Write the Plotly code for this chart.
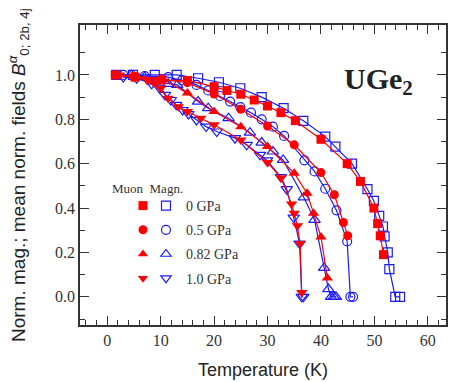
import plotly.graph_objects as go

# ---- data ----
mag0_T = [1.7, 4.8, 8.9, 13.0, 17.0, 20.9, 24.9, 28.9, 33.0, 36.7, 40.8, 42.7, 45.8, 48.7, 49.9, 50.9, 51.6, 51.9, 52.5, 52.8, 53.9, 54.8]
mag0_v = [1.0, 1.0, 1.0, 1.0, 0.985, 0.967, 0.94, 0.90, 0.85, 0.793, 0.722, 0.677, 0.60, 0.485, 0.432, 0.365, 0.317, 0.272, 0.20, 0.125, 0.0, 0.0]
muon0_T = [1.5, 5.2, 10.2, 15.0, 20.0, 22.4, 25.0, 27.5, 30.0, 32.5, 35.2, 40.0, 44.9, 47.4, 49.9, 50.6, 51.1, 51.7]
muon0_v = [1.0, 0.99, 0.977, 0.975, 0.947, 0.93, 0.913, 0.887, 0.86, 0.83, 0.794, 0.71, 0.60, 0.52, 0.40, 0.33, 0.275, 0.19]

mag05_T = [3.0, 7.0, 11.4, 14.0, 16.7, 18.9, 21.1, 23.0, 24.9, 26.9, 28.9, 31.0, 33.1, 36.9, 38.8, 40.8, 42.9, 44.9, 45.5, 46.0]
mag05_v = [1.0, 0.995, 0.99, 0.975, 0.955, 0.93, 0.905, 0.88, 0.855, 0.83, 0.80, 0.767, 0.725, 0.615, 0.565, 0.487, 0.39, 0.25, 0.0, 0.0]
muon05_T = [1.5, 5.0, 10.2, 15.0, 20.0, 25.0, 30.0, 35.0, 40.0, 42.5, 44.2, 45.0]
muon05_v = [1.0, 0.995, 0.98, 0.965, 0.914, 0.845, 0.77, 0.685, 0.56, 0.46, 0.335, 0.275]

mag082_T = [4.5, 7.0, 9.0, 11.4, 13.1, 17.0, 18.9, 22.7, 26.7, 28.9, 31.0, 32.9, 36.8, 38.8, 40.6, 41.4, 41.9, 42.4, 42.8]
mag082_v = [1.0, 0.99, 0.97, 0.96, 0.955, 0.88, 0.85, 0.805, 0.74, 0.695, 0.655, 0.617, 0.448, 0.347, 0.13, 0.035, 0.0, 0.0, 0.0]
muon082_T = [2.0, 5.0, 10.2, 15.0, 20.0, 25.0, 30.0, 35.0, 37.4, 38.6, 40.0, 41.2]
muon082_v = [1.0, 0.995, 0.985, 0.918, 0.835, 0.767, 0.677, 0.557, 0.467, 0.377, 0.27, 0.085]

mag10_T = [3.0, 5.5, 8.3, 9.8, 10.8, 11.9, 12.9, 14.1, 15.2, 16.7, 18.5, 20.5, 23.9, 26.1, 28.6, 29.9, 32.5, 33.6, 34.9, 36.0, 36.4, 36.7]
mag10_v = [0.99, 0.985, 0.96, 0.94, 0.91, 0.887, 0.865, 0.842, 0.824, 0.797, 0.767, 0.745, 0.715, 0.685, 0.64, 0.615, 0.54, 0.485, 0.357, 0.24, 0.0, 0.0]
muon10_T = [2.3, 5.0, 7.5, 8.7, 10.0, 11.4, 13.3, 15.0, 17.5, 20.0, 25.0, 30.0, 32.5, 34.5, 35.0, 35.6, 36.1, 36.4]
muon10_v = [1.0, 0.99, 0.975, 0.965, 0.94, 0.895, 0.857, 0.835, 0.805, 0.775, 0.707, 0.605, 0.537, 0.418, 0.377, 0.32, 0.24, 0.02]

pressures = ["0 GPa", "0.5 GPa", "0.82 GPa", "1.0 GPa"]
mag_sets = [(mag0_T, mag0_v), (mag05_T, mag05_v), (mag082_T, mag082_v), (mag10_T, mag10_v)]
muon_sets = [(muon0_T, muon0_v), (muon05_T, muon05_v), (muon082_T, muon082_v), (muon10_T, muon10_v)]
symbols = ["square", "circle", "triangle-up", "triangle-down"]
sizes = [9, 9, 10, 10]

y_major = [0.0, 0.2, 0.4, 0.6, 0.8, 1.0]
y_minor = [-0.1, 0.1, 0.3, 0.5, 0.7, 0.9, 1.1]

RED = "#ff0000"
BLUE = "#1a1aff"

fig = go.Figure()

for (T, v), sym, sz in zip(mag_sets, symbols, sizes):
    fig.add_trace(go.Scatter(
        x=T, y=v, mode="lines+markers", showlegend=False,
        line=dict(color=BLUE, width=1.2),
        marker=dict(symbol=sym + "-open", size=sz, color=BLUE, line=dict(width=1.2, color=BLUE)),
    ))
for (T, v), sym, sz in zip(muon_sets, symbols, sizes):
    fig.add_trace(go.Scatter(
        x=T, y=v, mode="lines+markers", showlegend=False,
        line=dict(color=RED, width=1.2),
        marker=dict(symbol=sym, size=sz, color=RED, line=dict(width=0)),
    ))

# legend-only entries
for i, (p, sym) in enumerate(zip(pressures, symbols)):
    fig.add_trace(go.Scatter(
        x=[None], y=[None], mode="markers", name=" ", legend="legend",
        legendgroup="mu%d" % i,
        marker=dict(symbol=sym, size=9, color=RED),
    ))
    fig.add_trace(go.Scatter(
        x=[None], y=[None], mode="markers", name=p, legend="legend2",
        legendgroup="ma%d" % i,
        marker=dict(symbol=sym + "-open", size=9, color=BLUE, line=dict(width=1.2, color=BLUE)),
    ))

AX = "#333333"
SERIF = "Liberation Serif"
SANS = "Liberation Sans"
PW = 366.0
PH = 300.0

fig.update_layout(
    width=450, height=382,
    margin=dict(l=80, r=4, t=25, b=57, autoexpand=False),
    paper_bgcolor="white", plot_bgcolor="white",
    showlegend=True,
    legend=dict(x=123 / 450, y=1 - 190 / 382, xref="container", yref="container",
                xanchor="left", yanchor="top", bgcolor="rgba(0,0,0,0)",
                font=dict(family=SERIF, size=14, color="#333"), tracegroupgap=3,
                itemclick=False),
    legend2=dict(x=146 / 450, y=1 - 190 / 382, xref="container", yref="container",
                 xanchor="left", yanchor="top", bgcolor="rgba(0,0,0,0)",
                 font=dict(family=SERIF, size=14, color="#333"), tracegroupgap=3,
                 itemclick=False),
    xaxis=dict(
        range=[-5.1, 63.4], tick0=0, dtick=10, ticks="inside", ticklen=9, tickwidth=1.3,
        tickcolor=AX, showline=True, linecolor=AX, linewidth=1.5, mirror="ticks",
        showgrid=False, zeroline=False,
        minor=dict(dtick=2, ticks="inside", ticklen=5, tickwidth=1, tickcolor=AX),
        tickfont=dict(family=SERIF, size=16, color="#333"),
        title=dict(text="Temperature (K)", font=dict(family=SANS, size=18, color="#222"), standoff=15),
    ),
    yaxis=dict(
        range=[-0.127, 1.225], tickvals=y_major, tickformat=".1f", ticks="inside", ticklen=9,
        tickwidth=1.3, tickcolor=AX, showline=True, linecolor=AX, linewidth=1.5, mirror="ticks",
        showgrid=False, zeroline=False,
        minor=dict(tickvals=y_minor, ticks="inside", ticklen=5, tickwidth=1, tickcolor=AX),
        tickfont=dict(family=SERIF, size=16, color="#333"),
    ),
    annotations=[
        dict(text="Norm. mag.; mean norm. fields <i>B</i><sup><i>α</i></sup><sub>0; 2b, 4j</sub>",
             x=(18 - 80) / PW, y=(325 - 175) / PH, xref="paper", yref="paper",
             textangle=-90, showarrow=False, xanchor="center", yanchor="middle",
             font=dict(family=SANS, size=19, color="#222")),
        dict(text="<b>UGe<sub>2</sub></b>", x=(342 - 80) / PW, y=(325 - 60) / PH,
             xref="paper", yref="paper", showarrow=False, xanchor="left", yanchor="top",
             font=dict(family=SERIF, size=30, color="#222")),
        dict(text="Muon  Magn.", x=(110 - 80) / PW, y=(325 - 188) / PH,
             xref="paper", yref="paper", xanchor="left", yanchor="middle", showarrow=False,
             font=dict(family=SERIF, size=13, color="#333")),
    ],
)

fig.write_html("out.html")
